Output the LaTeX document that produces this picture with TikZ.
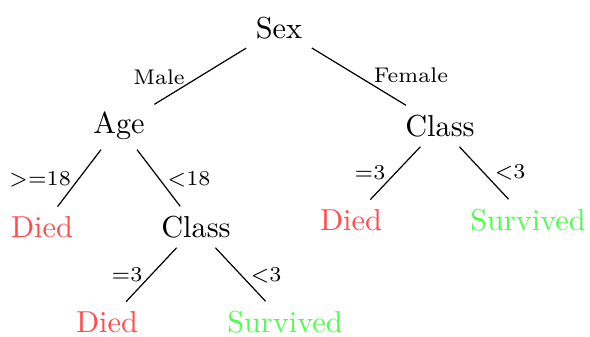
\documentclass[tikz,border=0pt]{standalone}
\usepackage{tikz}
\definecolor{diedred}{RGB}{255,77,77}
\definecolor{survgreen}{RGB}{77,255,77}

\begin{document}
\begin{tikzpicture}[x=0.33pt, y=-0.33pt,
		split/.style={inner sep=3pt, font=\normalsize},
		died/.style={split, text=diedred},
		survived/.style={split, text=survgreen},
		lab/.style={font=\scriptsize, inner sep=1pt}]
	\useasboundingbox (0,0) rectangle (590,336);
	% Knoten
	\node[split] (sex) at (279,28) {Sex};
	\node[split] (age) at (119,126) {Age};
	\node[split] (classr) at (440,126) {Class};
	\node[died] (diedl) at (42,227) {Died};
	\node[split] (classm) at (196,227) {Class};
	\node[died] (diedr) at (351,220) {Died};
	\node[survived] (survr) at (528,220) {Survived};
	\node[died] (diedb) at (107,322) {Died};
	\node[survived] (survb) at (285,322) {Survived};
	% Kanten
	\draw (sex) -- (age);
	\draw (sex) -- (classr);
	\draw (age) -- (diedl);
	\draw (age) -- (classm);
	\draw (classr) -- (diedr);
	\draw (classr) -- (survr);
	\draw (classm) -- (diedb);
	\draw (classm) -- (survb);
	% Beschriftungen
	\node[lab] (male) at (159,77) {Male};
	\node[lab] (female) at (411,75) {Female};
	\node[lab] (adult) at (40,179) {$>$=18};
	\node[lab] (child) at (189,179) {$<$18};
	\node[lab] (eqr) at (370,173) {=3};
	\node[lab] (ltr) at (510,172) {$<$3};
	\node[lab] (eqb) at (127,275) {=3};
	\node[lab] (ltb) at (266,275) {$<$3};
\end{tikzpicture}
\end{document}
